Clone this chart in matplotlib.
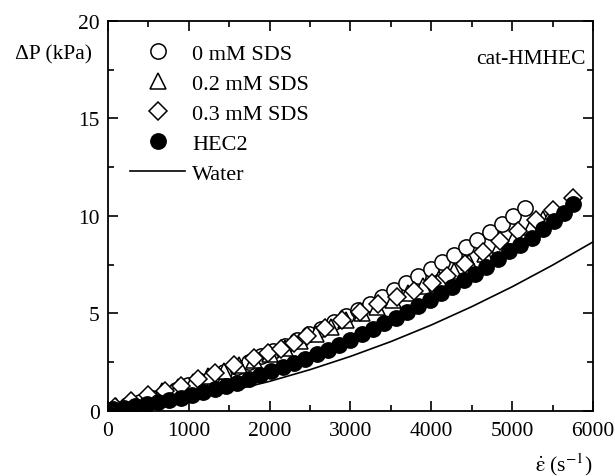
import matplotlib
matplotlib.use("Agg")
import matplotlib.pyplot as plt
from matplotlib.ticker import MultipleLocator

plt.rcParams['font.family'] = ['Liberation Serif', 'DejaVu Serif']
plt.rcParams['mathtext.fontset'] = 'stix'

# 0 mM SDS (open circles)
x_0mM = [90, 240, 390, 540, 690, 840, 990, 1140, 1290, 1440, 1590, 1740, 1890,
         2040, 2190, 2340, 2490, 2640, 2790, 2940, 3090, 3240, 3390, 3540, 3690,
         3840, 3990, 4130, 4280, 4430, 4570, 4720, 4870, 5010, 5160]
y_0mM = [0.15, 0.30, 0.48, 0.68, 0.89, 1.10, 1.32, 1.55, 1.78, 2.02, 2.28, 2.53,
         2.80, 3.07, 3.35, 3.64, 3.93, 4.23, 4.54, 4.86, 5.18, 5.51, 5.85, 6.20,
         6.55, 6.91, 7.28, 7.63, 8.01, 8.40, 8.77, 9.18, 9.59, 9.98, 10.40]

# 0.2 mM SDS (open triangles)
x_02mM = [100, 300, 480, 670, 860, 1050, 1240, 1430, 1620, 1810, 2000, 2190,
          2380, 2570, 2760, 2950, 3140, 3330, 3520, 3710, 3900, 4090, 4280,
          4470, 4660, 4850, 5040, 5230, 5380, 5510]
y_02mM = [0.25, 0.50, 0.75, 1.00, 1.25, 1.50, 1.78, 2.05, 2.35, 2.62, 2.92, 3.25,
          3.60, 3.95, 4.30, 4.65, 5.00, 5.35, 5.70, 6.05, 6.40, 6.78, 7.20, 7.62,
          8.05, 8.50, 8.95, 9.45, 9.85, 10.25]

# 0.3 mM SDS (open diamonds)
x_03mM = [90, 290, 500, 700, 900, 1110, 1320, 1560, 1810, 1980, 2140, 2300, 2460,
          2680, 2900, 3120, 3340, 3570, 3780, 4010, 4190, 4420, 4640, 4850, 5070,
          5290, 5500, 5750]
y_03mM = [0.20, 0.50, 0.80, 1.05, 1.30, 1.62, 1.97, 2.35, 2.72, 2.95, 3.20, 3.50,
          3.82, 4.25, 4.68, 5.07, 5.48, 5.85, 6.15, 6.55, 6.92, 7.52, 8.15, 8.70,
          9.22, 9.80, 10.30, 10.90]

# HEC2 (filled circles)
x_hec2 = [60, 200, 340, 480, 620, 760, 900, 1040, 1180, 1320, 1460, 1600, 1740,
          1880, 2020, 2160, 2300, 2440, 2580, 2720, 2860, 3000, 3140, 3280, 3420,
          3560, 3700, 3840, 3980, 4120, 4260, 4400, 4540, 4680, 4820, 4960, 5100,
          5240, 5380, 5520, 5640, 5755]
y_hec2 = [0.10, 0.15, 0.25, 0.35, 0.45, 0.55, 0.68, 0.82, 0.97, 1.12, 1.29, 1.46,
          1.64, 1.83, 2.03, 2.24, 2.45, 2.68, 2.91, 3.15, 3.40, 3.66, 3.93, 4.20,
          4.49, 4.78, 5.08, 5.39, 5.71, 6.03, 6.37, 6.72, 7.05, 7.40, 7.80, 8.18,
          8.50, 8.85, 9.35, 9.75, 10.15, 10.60]

# Water (solid line)
x_water = [0, 500, 1000, 1500, 2000, 2500, 3000, 3500, 4000, 4500, 5000, 5500, 6000]
y_water = [0.0, 0.25, 0.59, 1.01, 1.52, 2.12, 2.80, 3.56, 4.41, 5.35, 6.37, 7.48, 8.67]

fig = plt.figure(figsize=(6.15, 4.77), dpi=100)
ax = fig.add_axes([0.1756, 0.1363, 0.7886, 0.8176])

ms = 11
mew = 1.1
ax.plot(x_water, y_water, color='black', lw=1.2, label='Water', zorder=2)
ax.plot(x_0mM, y_0mM, 'o', ms=ms, mfc='white', mec='black', mew=mew,
        label='0 mM SDS', zorder=3)
ax.plot(x_02mM, y_02mM, '^', ms=ms, mfc='white', mec='black', mew=mew,
        label='0.2 mM SDS', zorder=3)
ax.plot(x_03mM, y_03mM, 'D', ms=ms * 0.8, mfc='white', mec='black', mew=mew,
        label='0.3 mM SDS', zorder=3)
ax.plot(x_hec2, y_hec2, 'o', ms=ms, mfc='black', mec='black', mew=mew,
        label='HEC2', zorder=4)

ax.set_xlim(0, 6000)
ax.set_ylim(0, 20)
ax.xaxis.set_major_locator(MultipleLocator(1000))
ax.xaxis.set_minor_locator(MultipleLocator(500))
ax.yaxis.set_major_locator(MultipleLocator(5))
ax.yaxis.set_minor_locator(MultipleLocator(2.5))
ax.tick_params(which='both', direction='in', top=True, right=True,
               labelsize=15.5, width=1.2)
ax.tick_params(which='major', length=7)
ax.tick_params(which='minor', length=4.5)
ax.tick_params(axis='x', pad=7)
ax.tick_params(axis='y', pad=6)
for s in ax.spines.values():
    s.set_linewidth(1.3)

handles, labels = ax.get_legend_handles_labels()
order = [1, 2, 3, 4, 0]
ax.legend([handles[i] for i in order], [labels[i] for i in order],
          loc='upper left', bbox_to_anchor=(0.045, 0.942), borderaxespad=0,
          borderpad=0, frameon=False, fontsize=16, handlelength=2.5,
          handletextpad=0.3, labelspacing=0.42)

ax.text(0.985, 0.905, 'cat-HMHEC', transform=ax.transAxes, ha='right',
        va='center', fontsize=15.5)
fig.text(0.024, 1 - 55 / 477, 'ΔP (kPa)', ha='left', va='center', fontsize=15.5)
fig.text(535 / 615, 1 - 465 / 477, r'$\mathrm{\dot{\varepsilon}}$ (s$^{-1}$)',
         ha='left', va='center', fontsize=15.5)

fig.savefig('out.png', dpi=100)
